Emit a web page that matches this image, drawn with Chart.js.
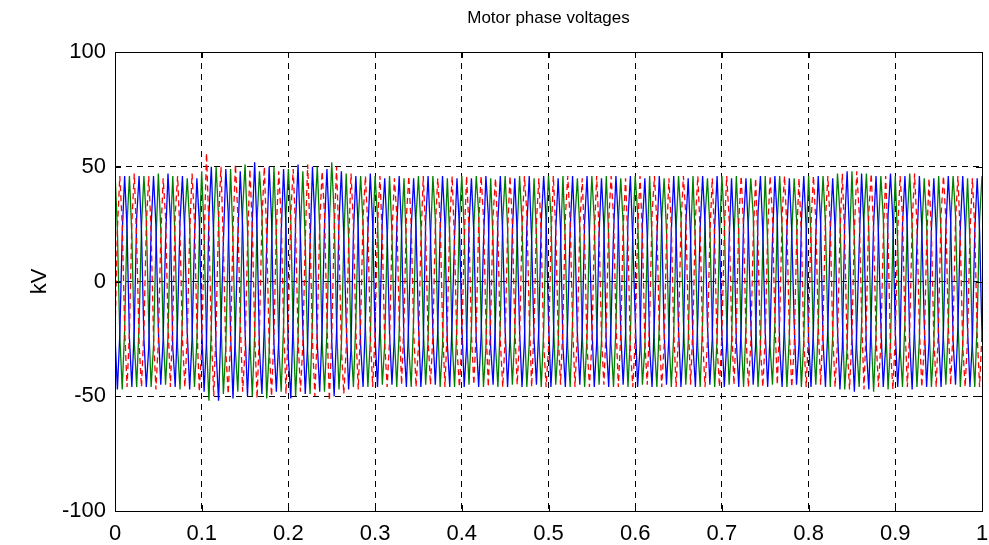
<!DOCTYPE html>
<html lang="en">
<head>
    <meta charset="UTF-8">
    <title>Motor phase voltages</title>
    <script src="https://cdn.jsdelivr.net/npm/chart.js"></script>
    <style>
        body { margin: 0; background: #fff; }
        #wrap { width: 989px; height: 545px; }
    </style>
</head>
<body>
    <div id="wrap"><canvas id="myChart"></canvas></div>

    <script>
        // sample spacing of the recorded waveforms (s)
        const sampleStep = 1 / 360;

        // phase voltages in kV
        const phaseRed = [
            -24, 23, 46, 25, -20, -46, -22, 26, 47, 18, -27, -46,
            -21, 24, 46, 22, -24, -47, -26, 19, 45, 28, -18, -46,
            -17, 29, 46, 20, -25, -46, -24, 21, 47, 26, -19, -48,
            -28, 17, 56, 23, -23, -50, -19, 27, 50, 16, -30, -49,
            -25, 22, 51, 29, -17, -48, -30, 15, 49, 24, -22, -51,
            -20, 26, 50, 19, -27, -50, -23, 23, 48, 27, -18, -49,
            -16, 30, 49, 22, -24, -48, -27, 18, 51, 20, -26, -50,
            -21, 25, 48, 29, -17, -52, -24, 22, 50, 17, -29, -49,
            -29, 16, 47, 25, -21, -47, -18, 28, 46, 23, -23, -46,
            -22, 24, 46, 19, -27, -46, -26, 20, 45, 29, -16, -45,
            -17, 28, 46, 24, -21, -46, -28, 17, 46, 21, -25, -45,
            -23, 23, 45, 27, -19, -46, -19, 26, 46, 16, -29, -46,
            -27, 18, 46, 22, -23, -45, -21, 25, 46, 28, -17, -46,
            -16, 29, 45, 20, -26, -46, -25, 21, 46, 25, -20, -45,
            -24, 22, 46, 30, -15, -46, -20, 26, 45, 19, -27, -46,
            -29, 16, 46, 23, -22, -45, -18, 28, 46, 26, -19, -46,
            -22, 24, 45, 17, -28, -46, -27, 19, 46, 22, -24, -45,
            -19, 26, 46, 28, -17, -46, -23, 23, 45, 16, -29, -46,
            -25, 21, 46, 20, -26, -45, -16, 29, 46, 25, -21, -46,
            -28, 18, 45, 24, -22, -46, -22, 24, 46, 29, -16, -45,
            -18, 27, 46, 21, -25, -46, -26, 20, 45, 18, -28, -46,
            -23, 22, 46, 27, -18, -45, -20, 26, 46, 23, -23, -46,
            -27, 19, 45, 16, -29, -46, -24, 21, 46, 28, -17, -45,
            -17, 29, 46, 23, -22, -46, -29, 17, 45, 20, -26, -46,
            -21, 25, 46, 26, -19, -45, -18, 27, 46, 24, -22, -46,
            -26, 20, 47, 18, -28, -47, -23, 22, 48, 30, -15, -47,
            -16, 30, 47, 22, -24, -46, -27, 19, 46, 17, -29, -47,
            -24, 22, 46, 28, -18, -46, -20, 25, 47, 24, -21, -46,
            -29, 16, 45, 21, -25, -46, -17, 29, 46, 27, -19, -45,
            -20, 26, 46, 18, -28, -46, -25, 21, 45, 23, -23, -46,
            -22
        ];
        const phaseGreen = [
            48, 22, -24, -47, -21, 25, 46, 20, -26, -46, -19, 24,
            46, 27, -18, -46, -28, 17, 47, 23, -22, -45, -24, 21,
            46, 16, -29, -47, -15, 28, 45, 25, -20, -46, -26, 19,
            48, 21, -27, -52, -20, 26, 50, 28, -17, -49, -29, 16,
            49, 18, -30, -48, -17, 31, 51, 24, -25, -50, -23, 27,
            48, 30, -16, -51, -31, 15, 50, 20, -28, -48, -19, 29,
            49, 26, -22, -50, -25, 23, 48, 17, -31, -49, -16, 30,
            50, 23, -26, -48, -22, 25, 52, 29, -19, -47, -28, 18,
            47, 19, -27, -46, -18, 26, 46, 25, -21, -46, -26, 20,
            46, 28, -17, -45, -27, 18, 46, 21, -24, -46, -22, 23,
            45, 15, -29, -46, -16, 28, 46, 24, -20, -45, -25, 19,
            46, 27, -19, -46, -28, 18, 45, 19, -26, -46, -18, 27,
            46, 22, -23, -45, -21, 24, 46, 30, -15, -46, -29, 16,
            45, 17, -28, -46, -18, 27, 46, 24, -22, -45, -23, 23,
            46, 26, -19, -46, -27, 18, 45, 20, -25, -46, -21, 24,
            46, 29, -16, -45, -28, 17, 46, 16, -29, -46, -17, 28,
            45, 23, -23, -46, -24, 22, 46, 27, -18, -45, -26, 19,
            46, 19, -27, -46, -20, 26, 45, 25, -21, -46, -24, 22,
            46, 30, -15, -45, -29, 16, 46, 18, -28, -46, -19, 27,
            45, 22, -24, -46, -23, 23, 46, 28, -17, -45, -27, 18,
            46, 16, -29, -46, -17, 28, 45, 24, -21, -46, -25, 20,
            46, 26, -19, -45, -27, 18, 46, 21, -25, -46, -20, 26,
            45, 29, -16, -46, -28, 17, 46, 17, -28, -45, -18, 27,
            46, 23, -22, -46, -24, 21, 45, 27, -18, -46, -26, 19,
            46, 19, -26, -45, -20, 25, 46, 25, -20, -46, -24, 21,
            47, 30, -16, -47, -29, 17, 48, 18, -29, -46, -19, 28,
            47, 22, -24, -48, -23, 23, 46, 28, -17, -47, -27, 18,
            46, 16, -29, -46, -17, 28, 47, 24, -22, -46, -25, 21,
            45, 26, -19, -46, -27, 18, 46, 21, -25, -45, -20, 26,
            46, 29, -16, -46, -28, 17, 45, 17, -28, -46, -18, 27,
            46
        ];
        const phaseBlue = [
            -24, -47, -23, 21, 46, 23, -25, -46, -21, 28, 46, 22,
            -25, -46, -29, 24, 46, 24, -21, -45, -25, 18, 47, 27,
            -29, -46, -16, 26, 46, 20, -22, -47, -25, 19, 45, 26,
            -20, -48, -26, 29, 50, 18, -31, -52, -20, 17, 49, 30,
            -24, -51, -21, 19, 48, 24, -21, -50, -24, 26, 52, 21,
            -30, -49, -19, 16, 50, 27, -27, -48, -25, 21, 49, 24,
            -33, -51, -16, 26, 51, 20, -21, -49, -27, 16, 50, 26,
            -27, -48, -21, 25, 49, 23, -26, -50, -22, 26, 48, 20,
            -18, -47, -29, 21, 46, 23, -28, -46, -17, 22, 47, 25,
            -24, -46, -19, 27, 45, 21, -23, -45, -24, 24, 46, 22,
            -28, -46, -16, 23, 45, 23, -18, -46, -28, 26, 46, 20,
            -23, -45, -22, 22, 46, 25, -27, -46, -17, 20, 45, 24,
            -19, -46, -28, 25, 45, 21, -25, -46, -24, 17, 46, 29,
            -29, -45, -16, 27, 46, 20, -21, -46, -25, 22, 45, 21,
            -22, -46, -26, 24, 46, 18, -25, -45, -19, 26, 46, 27,
            -17, -46, -27, 22, 45, 23, -28, -46, -16, 23, 46, 19,
            -23, -45, -22, 26, 46, 20, -19, -46, -27, 21, 45, 24,
            -27, -46, -17, 21, 46, 26, -22, -45, -23, 27, 46, 18,
            -16, -46, -29, 25, 45, 20, -29, -46, -16, 19, 46, 26,
            -22, -45, -24, 22, 46, 21, -21, -46, -27, 24, 45, 19,
            -28, -46, -16, 24, 46, 25, -19, -45, -25, 24, 46, 20,
            -23, -46, -27, 18, 45, 21, -26, -46, -20, 26, 45, 22,
            -18, -45, -28, 30, 46, 21, -22, -46, -24, 18, 46, 27,
            -29, -46, -17, 23, 45, 22, -18, -45, -27, 26, 46, 23,
            -25, -46, -21, 20, 46, 25, -26, -46, -20, 22, 45, 23,
            -21, -47, -29, 26, 48, 20, -25, -48, -21, 15, 47, 23,
            -30, -47, -16, 25, 46, 21, -19, -46, -28, 29, 47, 26,
            -22, -46, -27, 25, 46, 22, -27, -47, -19, 17, 46, 24,
            -18, -46, -26, 23, 45, 21, -25, -46, -21, 23, 46, 26,
            -26, -45, -20, 23, 46, 24, -21, -46, -26, 22, 45, 22,
            -24
        ];

        const toPoints = vals => vals.map((v, i) => ({ x: i * sampleStep, y: v }));

        const fontFamily = 'Arial, "Liberation Sans", Helvetica, sans-serif';

        // MATLAB style box with inward ticks
        const boxPlugin = {
            id: 'box',
            afterDraw(chart) {
                const { ctx, chartArea: a, scales } = chart;
                ctx.save();
                ctx.strokeStyle = '#000';
                ctx.lineWidth = 1;
                ctx.setLineDash([]);
                ctx.strokeRect(Math.round(a.left) + 0.5, Math.round(a.top) + 0.5,
                    Math.round(a.right - a.left), Math.round(a.bottom - a.top));
                ctx.beginPath();
                scales.x.ticks.forEach(t => {
                    const px = Math.round(scales.x.getPixelForValue(t.value)) + 0.5;
                    ctx.moveTo(px, a.bottom); ctx.lineTo(px, a.bottom - 6);
                    ctx.moveTo(px, a.top); ctx.lineTo(px, a.top + 6);
                });
                scales.y.ticks.forEach(t => {
                    const py = Math.round(scales.y.getPixelForValue(t.value)) + 0.5;
                    ctx.moveTo(a.left, py); ctx.lineTo(a.left + 6, py);
                    ctx.moveTo(a.right, py); ctx.lineTo(a.right - 6, py);
                });
                ctx.stroke();
                ctx.restore();
            }
        };

        const gridStyle = {
            display: true,
            color: '#000',
            lineWidth: 1,
            drawTicks: false
        };

        const config = {
            type: 'line',
            data: {
                datasets: [
                    {
                        label: 'Phase a',
                        data: toPoints(phaseRed),
                        borderColor: '#ff0000',
                        borderWidth: 1.3,
                        borderDash: [6, 4],
                        pointRadius: 0,
                        tension: 0
                    },
                    {
                        label: 'Phase c',
                        data: toPoints(phaseBlue),
                        borderColor: '#0000ff',
                        borderWidth: 1.3,
                        pointRadius: 0,
                        tension: 0
                    },
                    {
                        label: 'Phase b',
                        data: toPoints(phaseGreen),
                        borderColor: '#008000',
                        borderWidth: 1.3,
                        pointRadius: 0,
                        tension: 0
                    }
                ]
            },
            options: {
                responsive: true,
                maintainAspectRatio: false,
                animation: false,
                layout: { padding: 0 },
                plugins: {
                    legend: { display: false },
                    tooltip: { enabled: false }
                },
                scales: {
                    x: {
                        type: 'linear',
                        min: 0,
                        max: 1,
                        afterFit: s => { s.height = 34; s.paddingLeft = 0; s.paddingRight = 7; },
                        ticks: {
                            stepSize: 0.1,
                            color: '#000',
                            maxRotation: 0,
                            autoSkip: false,
                            padding: 10,
                            font: { family: fontFamily, size: 22 },
                            callback: v => String(Math.round(v * 10) / 10)
                        },
                        grid: gridStyle,
                        border: { display: false, dash: [6, 5] }
                    },
                    // top axis only carries the title, centred over the plot box
                    top: {
                        type: 'linear',
                        position: 'top',
                        min: 0,
                        max: 1,
                        afterFit: s => { s.height = 52; s.paddingLeft = 0; s.paddingRight = 7; },
                        ticks: { display: false },
                        grid: { display: false, drawTicks: false },
                        border: { display: false },
                        title: {
                            display: true,
                            text: 'Motor phase voltages',
                            color: '#000',
                            font: { family: fontFamily, size: 17, lineHeight: 1.2 },
                            padding: { top: 8, bottom: 0 }
                        }
                    },
                    y: {
                        min: -100,
                        max: 100,
                        afterFit: s => { s.width = 115; },
                        ticks: {
                            stepSize: 50,
                            color: '#000',
                            padding: 9,
                            font: { family: fontFamily, size: 22 }
                        },
                        grid: gridStyle,
                        border: { display: false, dash: [6, 5] },
                        title: {
                            display: true,
                            text: 'kV',
                            color: '#000',
                            font: { family: fontFamily, size: 22 },
                            padding: { top: 27, bottom: 0 }
                        }
                    }
                }
            },
            plugins: [boxPlugin]
        };

        const myChart = new Chart(document.getElementById('myChart'), config);
    </script>
</body>
</html>
